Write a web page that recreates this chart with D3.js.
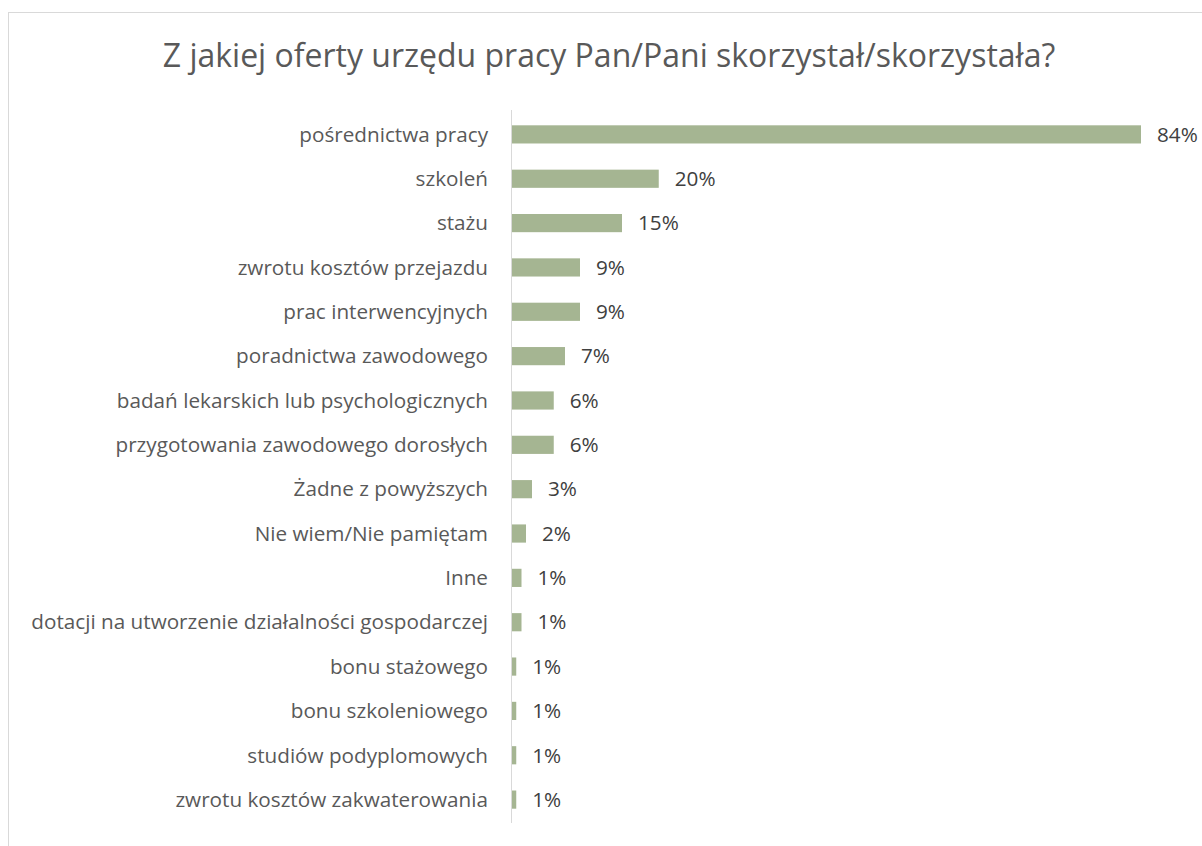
<!DOCTYPE html>
<html><head><meta charset="utf-8">
<script src="https://cdn.jsdelivr.net/npm/d3@7"></script>
<style>body{margin:0;background:#fff;} svg{display:block;}</style>
</head><body>
<svg id="c" width="1202" height="846"></svg>
<script>
const categories = ["pośrednictwa pracy","szkoleń","stażu","zwrotu kosztów przejazdu","prac interwencyjnych","poradnictwa zawodowego","badań lekarskich lub psychologicznych","przygotowania zawodowego dorosłych","Żadne z powyższych","Nie wiem/Nie pamiętam","Inne","dotacji na utworzenie działalności gospodarczej","bonu stażowego","bonu szkoleniowego","studiów podyplomowych","zwrotu kosztów zakwaterowania"];
const values = [84.0,19.7,14.8,9.2,9.2,7.2,5.7,5.7,2.8,2.0,1.4,1.4,0.7,0.7,0.7,0.7];
const valueLabels = ["84%","20%","15%","9%","9%","7%","6%","6%","3%","2%","1%","1%","1%","1%","1%","1%"];
const title = "Z jakiej oferty urzędu pracy Pan/Pani skorzystał/skorzystała?";

const svg = d3.select("#c");
const font = "'Open Sans', sans-serif";
svg.append("rect").attr("x",8.5).attr("y",12.5).attr("width",1210).attr("height",850)
  .attr("fill","none").attr("stroke","#d9d9d9");
svg.append("text").attr("x",609).attr("y",67).attr("text-anchor","middle")
  .attr("font-family",font).attr("font-size",32).attr("fill","#595959").text(title);

const x = d3.scaleLinear().domain([0,84]).range([511,1141]);
const y = d3.scaleBand().domain(categories).range([112,822]).paddingInner(0.59).paddingOuter(0.3);

svg.selectAll("rect.bar").data(values).join("rect").attr("class","bar")
  .attr("x",x(0)).attr("y",(d,i)=>y(categories[i]))
  .attr("width",d=>x(d)-x(0)).attr("height",y.bandwidth()).attr("fill","#a5b592");

const yAxis = d3.axisLeft(y).tickSize(0).tickPadding(23);
const g = svg.append("g").attr("transform",`translate(${x(0)},0)`).call(yAxis);
g.select(".domain").remove();
g.selectAll("text").attr("font-family",font).attr("font-size",20.7).attr("fill","#595959").attr("dy","0.35em");
svg.append("line").attr("x1",x(0)+0.5).attr("x2",x(0)+0.5).attr("y1",110).attr("y2",823).attr("stroke","#d9d9d9");

svg.selectAll("text.val").data(values).join("text").attr("class","val")
  .attr("x",d=>x(d)+16).attr("y",(d,i)=>y(categories[i])+y.bandwidth()/2).attr("dy","0.35em")
  .attr("font-family",font).attr("font-size",20.7).attr("fill","#404040")
  .text((d,i)=>valueLabels[i]);
</script>
</body></html>
